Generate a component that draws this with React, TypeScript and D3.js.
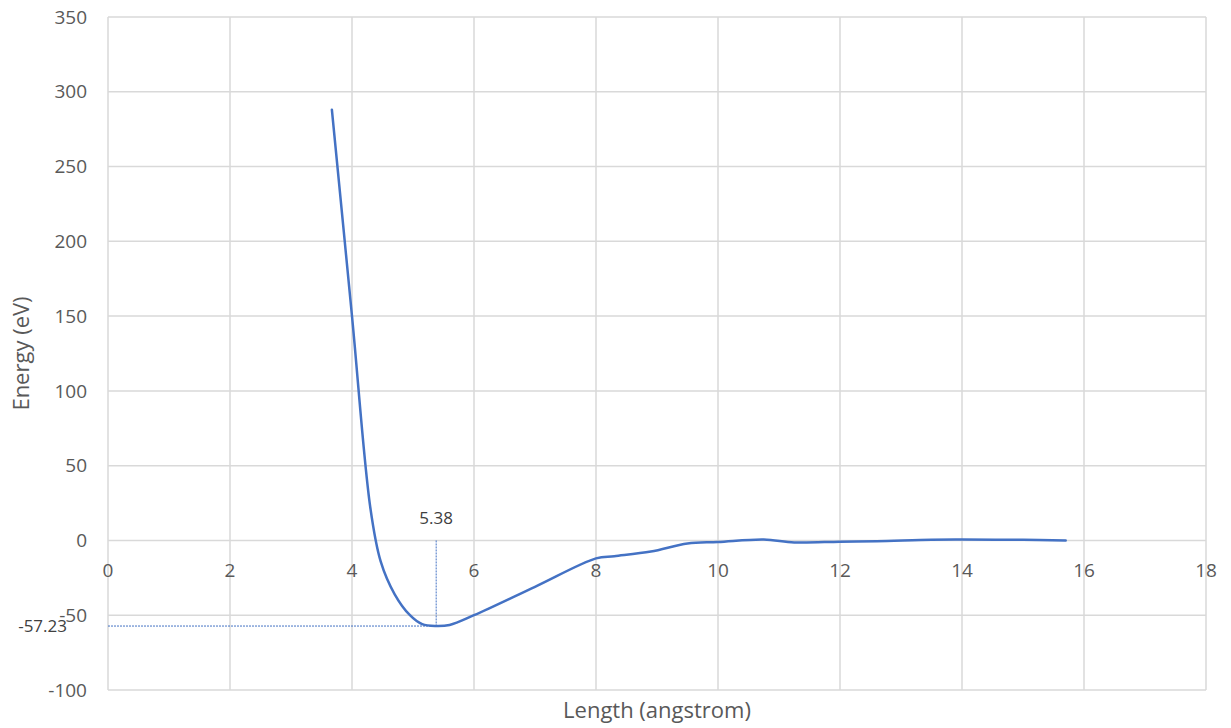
import React, { useEffect, useRef } from 'react'
import * as d3 from 'd3'

// bond length (angstrom) vs energy (eV)
const lengths = [3.67, 4.0, 4.3, 4.47, 4.7, 4.95, 5.15, 5.38, 5.6, 6.0, 7.0, 8.0, 8.3, 8.9, 9.5, 10.0, 10.75, 11.25, 12.0, 12.6, 13.5, 14.0, 15.0, 15.7]
const energies = [288, 150, 22, -14, -36, -50, -56, -57.23, -56.5, -50, -31, -12, -10.5, -7.4, -2, -1, 0.7, -1.3, -0.8, -0.5, 0.5, 0.6, 0.4, 0]

const xTicks = [0, 2, 4, 6, 8, 10, 12, 14, 16, 18]
const yTicks = [-100, -50, 0, 50, 100, 150, 200, 250, 300, 350]

const minX = 5.38
const minY = -57.23

const W = 1231
const H = 728

const App = () => {
  const svgRef = useRef<SVGSVGElement>(null)

  useEffect(() => {
    const svg = d3.select(svgRef.current)
    svg.selectAll('*').remove()

    const x = d3.scaleLinear().domain([0, 18]).range([108, 1206])
    const y = d3.scaleLinear().domain([-100, 350]).range([690, 17])
    const font = '"Open Sans", "Liberation Sans", sans-serif'
    const grid = '#d9d9d9'
    const text = '#595959'
    const blue = '#4472C4'

    // gridlines
    svg
      .append('g')
      .selectAll('line')
      .data(yTicks)
      .enter()
      .append('line')
      .attr('x1', x(0))
      .attr('x2', x(18))
      .attr('y1', (d) => y(d))
      .attr('y2', (d) => y(d))
      .attr('stroke', grid)
      .attr('stroke-width', 1.5)

    svg
      .append('g')
      .selectAll('line')
      .data(xTicks)
      .enter()
      .append('line')
      .attr('x1', (d) => x(d))
      .attr('x2', (d) => x(d))
      .attr('y1', y(350))
      .attr('y2', y(-100))
      .attr('stroke', grid)
      .attr('stroke-width', 1.5)

    // tick labels
    svg
      .append('g')
      .selectAll('text')
      .data(yTicks)
      .enter()
      .append('text')
      .attr('x', 87)
      .attr('y', (d) => y(d))
      .attr('dy', '0.35em')
      .attr('text-anchor', 'end')
      .attr('font-family', font)
      .attr('font-size', 19)
      .attr('fill', text)
      .text((d) => d)

    svg
      .append('g')
      .selectAll('text')
      .data(xTicks)
      .enter()
      .append('text')
      .attr('x', (d) => x(d))
      .attr('y', y(0) + 30)
      .attr('dy', '0.35em')
      .attr('text-anchor', 'middle')
      .attr('font-family', font)
      .attr('font-size', 19)
      .attr('fill', text)
      .text((d) => d)

    // minimum markers
    svg
      .append('line')
      .attr('x1', x(0))
      .attr('x2', x(minX))
      .attr('y1', y(minY))
      .attr('y2', y(minY))
      .attr('stroke', blue)
      .attr('stroke-width', 1)
      .attr('stroke-dasharray', '2,1')
    svg
      .append('line')
      .attr('x1', x(minX))
      .attr('x2', x(minX))
      .attr('y1', y(0))
      .attr('y2', y(minY))
      .attr('stroke', blue)
      .attr('stroke-width', 1)
      .attr('stroke-dasharray', '2,1')

    // the curve
    const pts = lengths.map((l, i) => [l, energies[i]] as [number, number])
    const line = d3
      .line<[number, number]>()
      .x((d) => x(d[0]))
      .y((d) => y(d[1]))
      .curve(d3.curveCatmullRom.alpha(0.5))
    svg
      .append('path')
      .datum(pts)
      .attr('d', line)
      .attr('fill', 'none')
      .attr('stroke', blue)
      .attr('stroke-width', 2.5)
      .attr('stroke-linejoin', 'round')
      .attr('stroke-linecap', 'round')

    // annotations
    svg
      .append('text')
      .attr('x', x(minX))
      .attr('y', 518)
      .attr('dy', '0.35em')
      .attr('text-anchor', 'middle')
      .attr('font-family', font)
      .attr('font-size', 17)
      .attr('fill', '#404040')
      .text(minX.toFixed(2))
    svg
      .append('text')
      .attr('x', 67)
      .attr('y', y(minY))
      .attr('dy', '0.35em')
      .attr('text-anchor', 'end')
      .attr('font-family', font)
      .attr('font-size', 17)
      .attr('fill', '#404040')
      .text(minY.toFixed(2))

    // axis titles
    svg
      .append('text')
      .attr('x', 657)
      .attr('y', 710)
      .attr('dy', '0.35em')
      .attr('text-anchor', 'middle')
      .attr('font-family', font)
      .attr('font-size', 22)
      .attr('fill', text)
      .text('Length (angstrom)')
    svg
      .append('text')
      .attr('transform', `translate(21, ${(y(350) + y(-100)) / 2}) rotate(-90)`)
      .attr('dy', '0.35em')
      .attr('text-anchor', 'middle')
      .attr('font-family', font)
      .attr('font-size', 22)
      .attr('fill', text)
      .text('Energy (eV)')
  }, [])

  return (
    <svg
      ref={svgRef}
      width={W}
      height={H}
      style={{ position: 'absolute', left: 0, top: 0, background: '#fff' }}
    ></svg>
  )
}

export default App
